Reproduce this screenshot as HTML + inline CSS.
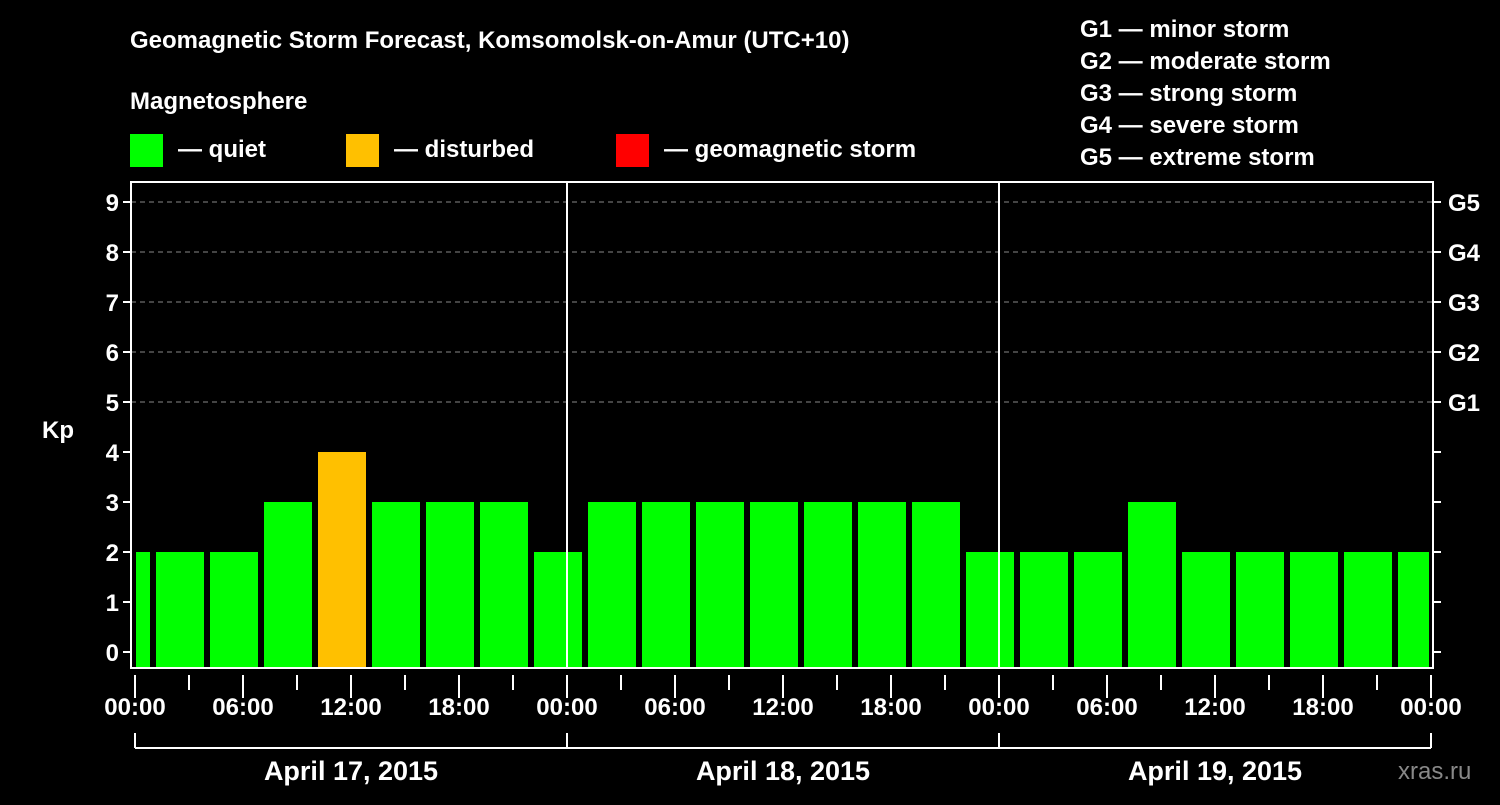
<!DOCTYPE html>
<html><head><meta charset="utf-8"><style>
body{margin:0;background:#000;width:1500px;height:800px;overflow:hidden}
svg text{font-family:"Liberation Sans",sans-serif;font-weight:bold;fill:#fff}
</style></head><body>
<svg id="c" width="1500" height="800">
<text x="130" y="48" font-size="24">Geomagnetic Storm Forecast, Komsomolsk-on-Amur (UTC+10)</text>
<text x="130" y="109" font-size="24">Magnetosphere</text>
<rect x="130" y="134" width="33" height="33" fill="#00ff00"/>
<text x="178" y="157" font-size="24">— quiet</text>
<rect x="346" y="134" width="33" height="33" fill="#ffc000"/>
<text x="394" y="157" font-size="24">— disturbed</text>
<rect x="616" y="134" width="33" height="33" fill="#ff0000"/>
<text x="664" y="157" font-size="24">— geomagnetic storm</text>
<g font-size="24">
<text x="1080" y="37">G1 — minor storm</text>
<text x="1080" y="69">G2 — moderate storm</text>
<text x="1080" y="101">G3 — strong storm</text>
<text x="1080" y="133">G4 — severe storm</text>
<text x="1080" y="165">G5 — extreme storm</text>
</g>
<text x="1398" y="779" font-size="24" fill="#888" style="fill:#888;font-weight:normal">xras.ru</text>
<g id="plot"></g>
</svg>
<script>
const kpValues=[2,2,2,3,4,3,3,3,2,3,3,3,3,3,3,3,2,2,2,3,2,2,2,2,2];
const yTicks=[0,1,2,3,4,5,6,7,8,9];
const gLabels=["G1","G2","G3","G4","G5"];
const timeLabels=["00:00","06:00","12:00","18:00","00:00","06:00","12:00","18:00","00:00","06:00","12:00","18:00","00:00"];
const dayLabels=["April 17, 2015","April 18, 2015","April 19, 2015"];
const NS="http://www.w3.org/2000/svg";
const g=document.getElementById('plot');
const X0=135,PX_H=18,L=131,R=1433,T=182,B=668;
const xh=h=>X0+h*PX_H;
const y=v=>652-50*v;
function mk(t,a){const e=document.createElementNS(NS,t);for(const k in a)e.setAttribute(k,a[k]);g.appendChild(e);return e;}
// grid
for(let v=5;v<=9;v++){const e=mk('line',{x1:L,x2:R,y1:y(v),y2:y(v),stroke:'#888','stroke-dasharray':'5,4'});

}
// bars
kpValues.forEach((v,i)=>{const c=xh(i*3-0.5);let x1=Math.max(c-24,L+5),x2=Math.min(c+24,R-4);
const col=v>=5?'#ff0000':(v>=4?'#ffc000':'#00ff00');
const r=mk('rect',{x:x1,y:y(v),width:x2-x1,height:B-y(v),fill:col});

});
// day separators
[1,2].forEach(d=>{const e=mk('line',{x1:xh(d*24),x2:xh(d*24),y1:T,y2:B,stroke:'#fff','stroke-width':2});

});
// frame
const f=mk('rect',{x:L,y:T,width:R-L,height:B-T,fill:'none',stroke:'#fff','stroke-width':2});


// y ticks
yTicks.forEach(v=>{mk('line',{x1:L-8,x2:L,y1:y(v),y2:y(v),stroke:'#fff','stroke-width':2});
mk('line',{x1:R,x2:R+8,y1:y(v),y2:y(v),stroke:'#fff','stroke-width':2});
const t=mk('text',{x:L-12,y:y(v)+9,'text-anchor':'end','font-size':24});t.textContent=v;

});
gLabels.forEach((s,i)=>{const t=mk('text',{x:1448,y:y(5+i)+9,'font-size':24});t.textContent=s;

});
const yt=mk('text',{x:42,y:438,'font-size':24});yt.textContent='Kp';


// x ticks
for(let h=0;h<=72;h+=3){mk('line',{x1:xh(h),x2:xh(h),y1:675,y2:h%6?690:698,stroke:'#fff','stroke-width':2});}
timeLabels.forEach((s,i)=>{const t=mk('text',{x:xh(i*6),y:715,'text-anchor':'middle','font-size':24});t.textContent=s;

});
mk('line',{x1:xh(0),x2:xh(72),y1:748,y2:748,stroke:'#fff','stroke-width':2});
for(let d=0;d<=3;d++)mk('line',{x1:xh(d*24),x2:xh(d*24),y1:733,y2:748,stroke:'#fff','stroke-width':2});
dayLabels.forEach((s,i)=>{const t=mk('text',{x:xh(i*24+12),y:780,'text-anchor':'middle','font-size':27});t.textContent=s;

});
</script>
</body></html>
